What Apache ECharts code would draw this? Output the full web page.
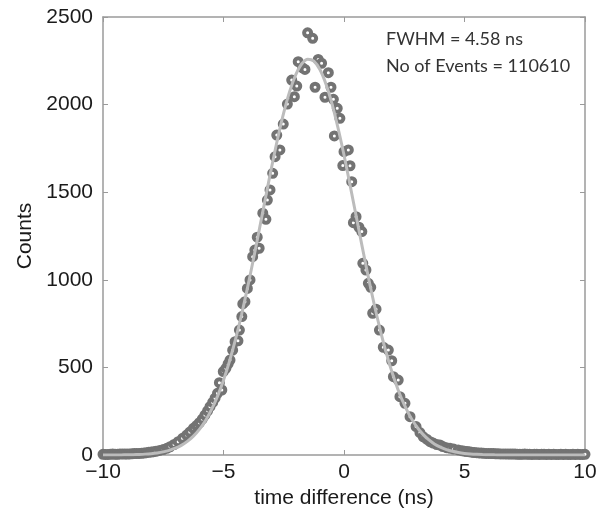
<!DOCTYPE html>
<html>
<head>
<meta charset="utf-8">
<script src="https://cdn.jsdelivr.net/npm/echarts@6/dist/echarts.min.js"></script>
<style>
html,body{margin:0;padding:0;background:#fff;}
#chart{width:609px;height:519px;}
</style>
</head>
<body>
<div id="chart"></div>
<script>
// Measured histogram (time difference in ns, counts)
var timeValues = [
  -10.0,-9.9,-9.8,-9.7,-9.6,-9.5,-9.4,-9.3,-9.2,-9.1,-9.0,-8.9,-8.8,-8.7,-8.6,-8.5,-8.4,-8.3,-8.2,-8.1,-8.0,-7.9,-7.8,-7.65,-7.5,-7.35,-7.22,-7.05,-6.88,-6.7,-6.53,
  -6.4,-6.25,-6.12,-6.0,-5.88,-5.77,-5.66,-5.56,-5.45,-5.35,-5.25,-5.17,-5.07,-5.01,-4.9,-4.81,-4.73,-4.62,-4.52,-4.4,
  -4.34,-4.24,-4.2,-4.11,-4.01,-3.9,-3.79,-3.7,-3.6,-3.52,-3.37,-3.24,-3.18,-3.07,-2.96,-2.86,-2.79,-2.66,-2.52,-2.35,
  -2.17,-2.06,-1.96,-1.9,-1.72,-1.62,-1.51,-1.3,-1.2,-1.07,-0.93,-0.79,-0.65,-0.54,-0.44,-0.4,-0.28,-0.17,-0.05,0.0,
  0.18,0.25,0.32,0.39,0.5,0.62,0.74,0.78,0.91,1.01,1.11,1.19,1.33,1.47,1.63,1.84,1.98,2.05,2.25,2.32,
  2.53,2.74,2.99,3.15,3.29,3.43,3.57,3.7,3.85,3.98,4.1,4.25,4.4,4.55,4.74,4.9,5.0,5.1,5.2,5.3,5.4,5.5,5.6,5.7,5.8,
  5.9,6.0,6.1,6.2,6.3,6.4,6.5,6.6,6.7,6.8,6.9,7.0,7.1,7.2,7.3,7.4,7.5,7.6,7.7,7.8,7.9,8.0,8.1,8.2,8.3,8.4,8.5,8.6,8.7,8.8,8.9,
  9.0,9.1,9.2,9.3,9.4,9.5,9.6,9.7,9.8,9.9,10.0
];
var countValues = [
  4,3,3,4,5,4,4,5,6,5,5,6,7,8,8,9,10,11,13,15,17,19,21,26,31,38,47,60,76,95,114,
  131,152,168,184,205,228,252,276,300,324,352,413,371,476,495,520,542,598,647,652,
  713,790,862,875,951,999,1132,1170,1243,1180,1380,1345,1455,1513,1608,1703,1826,1741,1889,2003,
  2140,2045,2106,2245,2210,2201,2410,2378,2099,2258,2236,2042,2182,2099,2030,1821,1979,1922,1652,1731,
  1741,1651,1560,1326,1360,1300,1275,1094,1056,980,957,809,832,713,615,599,538,447,428,333,
  295,219,162,128,104,90,76,68,60,57,48,42,38,34,29,24,22,20,18,16,14,13,12,11,10,
  9,9,8,8,7,7,6,6,6,5,5,5,5,4,4,4,5,4,4,3,4,4,3,4,4,3,4,3,4,3,3,
  4,3,4,3,3,4,3,4,3,3,4
];
// Gaussian fit curve sampled values
var fitTime = [
  -10,-9.75,-9.5,-9.25,-9,-8.75,-8.5,-8.25,-8,-7.75,-7.5,-7.25,-7,-6.75,-6.5,-6.25,-6,-5.75,-5.5,-5.25,
  -5,-4.75,-4.5,-4.25,-4,-3.75,-3.5,-3.25,-3,-2.75,-2.5,-2.25,-2,-1.75,-1.5,-1.25,-1,-0.75,-0.5,-0.25,
  0,0.25,0.5,0.75,1,1.25,1.5,1.75,2,2.25,2.5,2.75,3,3.25,3.5,3.75,4,4.25,4.5,4.75,
  5,5.25,5.5,5.75,6,6.25,6.5,6.75,7,7.25,7.5,7.75,8,8.25,8.5,8.75,9,9.25,9.5,9.75,10
];
var fitCounts = [
  0.1,0.2,0.4,0.7,1.2,2.0,3.2,5.0,7.8,11.9,17.9,26.5,38.6,55.1,77.7,107.6,146.5,196,259,335,
  427,536,661,802,957,1123,1297,1473,1645,1808,1954,2077,2171,2233,2259,2248,2200,2118,2006,1868,
  1712,1542,1367,1192,1022,862,716,584,469,370,287,219,165,122,88.7,63.3,44.6,30.9,21.0,14.0,
  9.2,6.0,3.8,2.4,1.5,0.9,0.5,0.3,0.2,0.1,0.1,0,0,0,0,0,0,0,0,0,0
];
var xTicks = [-10, -5, 0, 5, 10];
var yTicks = [0, 500, 1000, 1500, 2000, 2500];
var annotationLines = ['FWHM = 4.58 ns', 'No of Events = 110610'];

var chart = echarts.init(document.getElementById('chart'));
var axisCol = '#9a9a9a';
var labelFont = {color:'#1a1a1a', fontFamily:'Liberation Sans, Arial, sans-serif', fontSize:21};
function fmt(v){ return String(v).replace('-', '\u2212'); }
function baseAxisX(pos, show){
  return {
    type:'value', position:pos, min:xTicks[0], max:xTicks[xTicks.length-1], interval:5,
    axisLine:{show:true, onZero:false, lineStyle:{color:axisCol, width:1.5}},
    axisTick:{show:true, inside:true, length:5, lineStyle:{color:axisCol, width:1}},
    axisLabel:Object.assign({show:show, margin:7, formatter:fmt}, labelFont),
    splitLine:{show:false}
  };
}
function baseAxisY(pos, show){
  return {
    type:'value', position:pos, min:yTicks[0], max:yTicks[yTicks.length-1], interval:500,
    axisLine:{show:true, onZero:false, lineStyle:{color:axisCol, width:1.5}},
    axisTick:{show:true, inside:true, length:5, lineStyle:{color:axisCol, width:1}},
    axisLabel:Object.assign({show:show, margin:10, formatter:fmt}, labelFont),
    splitLine:{show:false}
  };
}
var xb = baseAxisX('bottom', true);
xb.name = 'time difference (ns)'; xb.nameLocation = 'middle'; xb.nameGap = 33;
xb.nameTextStyle = labelFont;
var yl = baseAxisY('left', true);
yl.name = 'Counts'; yl.nameLocation = 'middle'; yl.nameGap = 62;
yl.nameTextStyle = labelFont;

var option = {
  animation:false,
  backgroundColor:'#ffffff',
  grid:{left:103, right:24, top:17, bottom:64, containLabel:false},
  xAxis:[xb, baseAxisX('top', false)],
  yAxis:[yl, baseAxisY('right', false)],
  series:[
    {
      type:'scatter', xAxisIndex:0, yAxisIndex:0,
      data: timeValues.map(function(t,i){return [t, countValues[i]];}),
      symbol:'circle', symbolSize:7,
      itemStyle:{color:'#ffffff', borderColor:'#737373', borderWidth:4, opacity:1},
      z:2
    },
    {
      type:'line', xAxisIndex:0, yAxisIndex:0,
      data: fitTime.map(function(t,i){return [t, fitCounts[i]];}),
      smooth:0.3, showSymbol:false, symbol:'none',
      lineStyle:{color:'#bcbcbc', width:3},
      z:3
    }
  ],
  graphic:[
    {type:'text', left:386, top:30, style:{text:annotationLines[0], fill:'#333', font:'18px Lato, "Open Sans", sans-serif'}},
    {type:'text', left:386, top:57, style:{text:annotationLines[1], fill:'#333', font:'18px Lato, "Open Sans", sans-serif'}}
  ]
};
chart.setOption(option);
</script>
</body>
</html>
